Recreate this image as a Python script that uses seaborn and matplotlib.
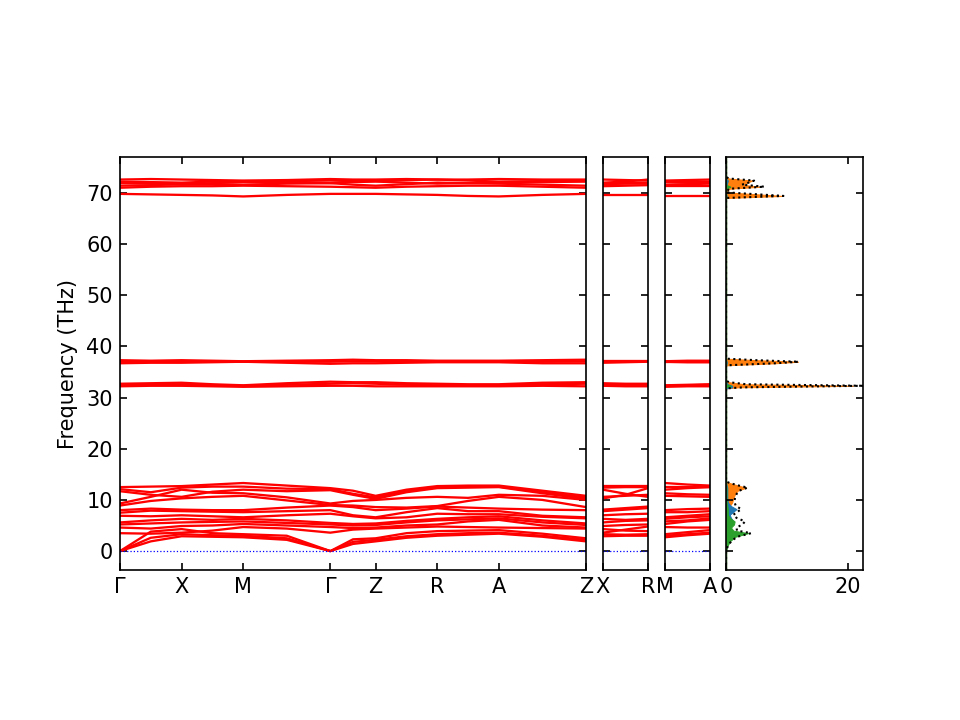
import numpy as np
import pandas as pd
import matplotlib
matplotlib.use("Agg")
import matplotlib.pyplot as plt
import seaborn as sns

# ---------------- DATA ----------------
# main path G-X-M-G-Z-R-A-Z, segment lengths (1/A, scaled)
path_labels = ["Γ", "X", "M", "Γ", "Z", "R", "A", "Z"]
seg_len = [0.5, 0.5, 0.7071, 0.3676, 0.5, 0.5, 0.7071]
xr_labels = ["X", "R"]
ma_labels = ["M", "A"]
side_len = 0.3676

# band frequencies (THz) at node, mid, node, mid, ... along main path
bands_main = [
    [0.0, 1.9, 2.9, 2.8, 2.7, 2.2, 0.0, 1.4, 1.9, 2.6, 3.0, 3.2, 3.4, 2.8, 1.9],
    [0.0, 2.6, 3.3, 3.1, 3.0, 2.5, 0.0, 1.8, 2.2, 2.9, 3.3, 3.5, 3.6, 3.0, 2.2],
    [0.0, 3.8, 4.3, 3.5, 3.3, 3.0, 0.0, 2.3, 2.5, 3.5, 3.9, 4.0, 4.1, 3.4, 2.5],
    [3.5, 3.4, 3.6, 4.0, 4.7, 4.4, 3.6, 4.2, 4.4, 4.6, 4.8, 4.7, 4.6, 4.5, 4.4],
    [4.6, 4.4, 4.9, 5.0, 5.3, 5.0, 4.7, 4.5, 4.6, 5.0, 5.2, 5.8, 6.1, 5.0, 4.6],
    [5.2, 5.4, 5.6, 5.7, 5.8, 5.5, 5.2, 5.0, 5.1, 5.6, 6.0, 6.2, 6.4, 5.6, 5.1],
    [5.6, 6.0, 6.3, 6.1, 6.3, 6.0, 5.5, 5.3, 5.4, 5.9, 6.3, 6.6, 6.8, 6.0, 5.4],
    [6.9, 6.8, 7.0, 6.8, 6.6, 7.0, 7.3, 6.8, 6.4, 6.6, 7.3, 7.2, 7.2, 6.7, 6.4],
    [7.5, 7.9, 7.8, 7.7, 7.6, 7.8, 8.0, 7.0, 6.6, 7.6, 8.4, 7.8, 7.8, 6.9, 6.6],
    [8.0, 8.3, 8.1, 8.0, 8.0, 8.5, 8.9, 8.6, 8.0, 8.3, 8.7, 8.5, 8.3, 8.1, 8.0],
    [8.9, 9.8, 10.3, 10.6, 10.8, 9.9, 9.0, 8.9, 8.6, 8.5, 8.8, 9.8, 10.6, 10.0, 8.6],
    [9.3, 10.6, 12.0, 11.4, 11.3, 10.5, 9.3, 9.8, 10.0, 10.4, 10.6, 10.4, 11.0, 10.8, 10.0],
    [11.7, 11.0, 10.6, 11.6, 12.0, 11.7, 11.9, 11.0, 10.2, 11.5, 12.3, 12.4, 12.5, 11.3, 10.2],
    [12.1, 11.5, 12.4, 12.6, 12.6, 12.2, 12.1, 11.2, 10.5, 11.8, 12.5, 12.6, 12.6, 11.5, 10.5],
    [12.5, 12.6, 12.7, 13.0, 13.3, 12.8, 12.3, 11.8, 10.8, 12.0, 12.7, 12.8, 12.8, 11.8, 10.8],
    [32.2, 32.3, 32.3, 32.2, 32.1, 32.2, 32.3, 32.3, 32.2, 32.2, 32.2, 32.2, 32.2, 32.3, 32.2],
    [32.4, 32.5, 32.6, 32.4, 32.3, 32.5, 32.7, 32.8, 32.7, 32.5, 32.4, 32.4, 32.4, 32.6, 32.7],
    [32.7, 32.8, 32.9, 32.6, 32.4, 32.8, 33.1, 33.0, 33.0, 32.8, 32.7, 32.6, 32.6, 32.9, 33.0],
    [36.7, 36.8, 36.8, 36.9, 37.0, 36.8, 36.6, 36.7, 36.7, 36.8, 36.9, 36.9, 36.9, 36.7, 36.7],
    [37.0, 37.0, 37.1, 37.0, 37.0, 37.0, 37.0, 37.1, 37.1, 37.1, 37.1, 37.0, 37.0, 37.0, 37.1],
    [37.3, 37.2, 37.3, 37.2, 37.1, 37.2, 37.3, 37.4, 37.3, 37.3, 37.2, 37.2, 37.2, 37.3, 37.4],
    [69.8, 69.7, 69.6, 69.5, 69.3, 69.6, 69.8, 69.8, 69.8, 69.7, 69.6, 69.4, 69.3, 69.6, 69.8],
    [71.0, 71.2, 71.3, 71.3, 71.4, 71.3, 71.2, 71.1, 71.0, 71.2, 71.3, 71.4, 71.4, 71.2, 71.0],
    [71.4, 71.5, 71.7, 71.7, 71.6, 71.8, 71.9, 71.6, 71.4, 71.7, 72.0, 71.9, 71.8, 71.6, 71.4],
    [71.9, 71.8, 71.7, 71.9, 72.1, 72.0, 71.9, 72.1, 72.2, 72.0, 71.8, 71.9, 72.0, 72.1, 72.2],
    [72.2, 72.1, 72.0, 72.2, 72.3, 72.3, 72.4, 72.3, 72.3, 72.5, 72.6, 72.4, 72.2, 72.3, 72.3],
    [72.6, 72.7, 72.6, 72.5, 72.4, 72.5, 72.7, 72.6, 72.6, 72.7, 72.6, 72.6, 72.7, 72.6, 72.6],
]

# X-R branch (X, mid, R)
bands_xr = [
    [2.9, 3.0, 3.0], [3.3, 3.2, 3.3], [4.3, 4.0, 3.9], [3.6, 4.2, 4.8],
    [4.9, 5.1, 5.2], [5.6, 5.9, 6.0], [6.3, 6.1, 6.3], [7.0, 7.2, 7.3],
    [7.8, 8.1, 8.4], [8.1, 8.4, 8.7], [10.3, 11.0, 12.3], [12.0, 11.2, 10.6],
    [10.6, 10.8, 11.0], [12.4, 12.5, 12.5], [12.7, 12.7, 12.7],
    [32.3, 32.2, 32.2], [32.6, 32.5, 32.5], [32.8, 32.7, 32.7],
    [36.8, 36.9, 37.0], [37.0, 37.1, 37.1], [37.2, 37.2, 37.2],
    [69.6, 69.6, 69.6], [71.3, 71.4, 71.5], [71.8, 71.9, 72.0],
    [71.7, 71.8, 71.8], [72.0, 72.2, 72.6], [72.6, 72.5, 72.4],
]

# M-A branch (M, mid, A)
bands_ma = [
    [2.7, 3.1, 3.4], [3.0, 3.3, 3.6], [3.3, 3.7, 4.1], [4.7, 4.6, 4.6],
    [5.3, 5.8, 6.1], [5.8, 6.0, 6.4], [6.3, 6.6, 6.8], [6.6, 6.9, 7.2],
    [7.6, 7.6, 7.8], [8.0, 8.2, 8.3], [10.8, 10.7, 10.6], [11.3, 11.1, 11.0],
    [12.0, 12.3, 12.5], [12.6, 12.6, 12.6], [13.3, 13.0, 12.8],
    [32.1, 32.2, 32.2], [32.3, 32.4, 32.5], [32.4, 32.5, 32.6],
    [37.0, 36.9, 36.9], [37.0, 37.0, 37.0], [37.1, 37.2, 37.2],
    [69.3, 69.3, 69.3], [71.4, 71.4, 71.4], [71.6, 71.7, 71.8],
    [72.1, 72.0, 72.0], [72.3, 72.2, 72.2], [72.4, 72.5, 72.6],
]

# phonon DOS (projected), frequency in THz
dos_freq = [-3.7, 0.0, 1.0, 2.0, 2.8, 3.5, 4.0, 4.6, 5.2, 5.8, 6.5, 7.1, 7.7, 8.2,
            8.8, 9.5, 10.4, 11.2, 11.8, 12.4, 12.8, 13.3, 13.6,
            31.8, 32.0, 32.3, 32.6, 33.0, 33.3,
            36.3, 36.7, 37.0, 37.3, 37.6,
            69.0, 69.4, 69.8, 70.1, 70.8, 71.2, 71.6, 72.0, 72.4, 72.8, 73.1, 77.0]
pdos_orange = [0, 0, 0.05, 0.1, 0.15, 0.2, 0.2, 0.3, 0.4, 0.5, 0.3, 0.3, 0.4, 0.5,
               0.6, 1.0, 1.2, 1.5, 1.9, 3.3, 2.0, 0.6, 0,
               0, 2.0, 20.8, 3.0, 0.5, 0,
               0, 8.0, 11.8, 5.0, 0,
               0, 9.3, 4.0, 0, 0.5, 5.5, 2.5, 3.5, 4.3, 0.5, 0, 0]
pdos_blue = [0, 0, 0.05, 0.1, 0.2, 0.3, 0.4, 0.6, 1.0, 1.2, 0.8, 0.6, 1.2, 1.7,
             0.8, 0.3, 0.2, 0.2, 0.2, 0.2, 0.1, 0, 0,
             0, 1.0, 1.0, 0.3, 0, 0,
             0, 0.1, 0.1, 0, 0,
             0, 0.1, 0, 0, 0, 0.1, 0.1, 0.2, 0.3, 0, 0, 0]
pdos_green = [0, 0, 0.2, 0.7, 1.5, 3.6, 1.2, 0.8, 1.3, 1.4, 0.6, 0.3, 0.3, 0.3,
              0.2, 0.1, 0.05, 0.05, 0.05, 0.05, 0, 0, 0,
              0, 0, 0.8, 0, 0, 0,
              0, 0, 0, 0, 0,
              0, 0, 0, 0, 0, 0.7, 0, 0, 0, 0, 0, 0]

# ---------------- BUILD FRAMES ----------------
nodes = np.concatenate([[0.0], np.cumsum(seg_len)])
k_main = []
for a, b in zip(nodes[:-1], nodes[1:]):
    k_main += [a, 0.5 * (a + b)]
k_main.append(nodes[-1])
k_side = [0.0, side_len / 2, side_len]


def long_frame(bands, k):
    rows = []
    for i, b in enumerate(bands):
        for kk, f in zip(k, b):
            rows.append((i, kk, f))
    return pd.DataFrame(rows, columns=["band", "k", "freq"])


df_main = long_frame(bands_main, k_main)
df_xr = long_frame(bands_xr, k_side)
df_ma = long_frame(bands_ma, k_side)

dos = pd.DataFrame({"freq": dos_freq, "orange": pdos_orange,
                    "blue": pdos_blue, "green": pdos_green})
dos["total"] = dos["orange"] + dos["blue"] + dos["green"]

# ---------------- PLOT ----------------
fig = plt.figure(figsize=(6.4, 4.8), dpi=150)
bottom, height = 0.2083, 0.5736
ax_main = fig.add_axes([0.1250, bottom, 0.4854, height])
ax_xr = fig.add_axes([0.6281, bottom, 0.0469, height])
ax_ma = fig.add_axes([0.6927, bottom, 0.0469, height])
ax_dos = fig.add_axes([0.7563, bottom, 0.1427, height])

ylim = (-3.7, 77.0)

for ax, df, ticks, labels in [
    (ax_main, df_main, nodes, path_labels),
    (ax_xr, df_xr, [0, side_len], xr_labels),
    (ax_ma, df_ma, [0, side_len], ma_labels),
]:
    sns.lineplot(data=df, x="k", y="freq", units="band", estimator=None,
                 sort=False, color="red", lw=1.1, ax=ax, legend=False)
    ax.axhline(0, color="b", ls=":", lw=0.6)
    ax.set_xlim(ticks[0], ticks[-1])
    ax.set_ylim(*ylim)
    ax.set_xticks(ticks)
    ax.set_xticklabels(labels)
    ax.set_xlabel("")
    ax.set_ylabel("")
    ax.tick_params(direction="in", top=True, right=True)
    if ax is not ax_main:
        ax.set_yticklabels([])

ax_main.set_ylabel("Frequency (THz)")

ax_dos.fill_betweenx(dos["freq"], 0, dos["orange"], color="tab:orange", lw=0.5)
ax_dos.fill_betweenx(dos["freq"], 0, dos["blue"], color="tab:blue", lw=0.5)
ax_dos.fill_betweenx(dos["freq"], 0, dos["green"], color="tab:green", lw=0.5)
sns.lineplot(data=dos, x="total", y="freq", orient="y", sort=False,
             estimator=None, color="k", ls=":", lw=1.0, ax=ax_dos)
ax_dos.set_xlim(0, 22.45)
ax_dos.set_ylim(*ylim)
ax_dos.set_xticks([0, 20])
ax_dos.set_yticks(ax_main.get_yticks())
ax_dos.set_ylim(*ylim)
ax_dos.set_yticklabels([])
ax_dos.set_xlabel("")
ax_dos.set_ylabel("")
ax_dos.tick_params(direction="in", top=True, right=True)

fig.savefig("out.png", dpi=150)
